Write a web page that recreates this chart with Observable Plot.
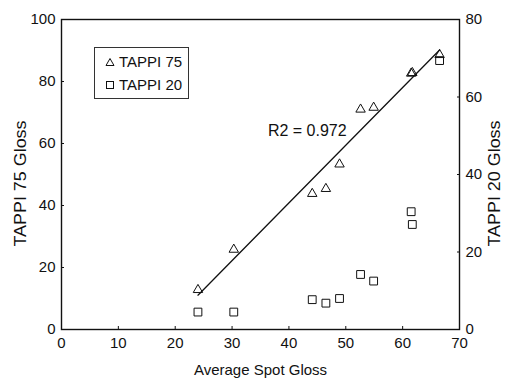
<!DOCTYPE html>
<html>
<head>
<meta charset="utf-8">
<script src="https://cdn.jsdelivr.net/npm/d3@7"></script>
<script src="https://cdn.jsdelivr.net/npm/@observablehq/plot@0.6"></script>
<style>
  html, body { margin: 0; padding: 0; background: #fff; }
  #wrap { position: relative; width: 508px; height: 383px; font-family: "Liberation Sans", Arial, sans-serif; }
  #legend { position: absolute; left: 94px; top: 47px; width: 95px; height: 52px; border: 1px solid #333; background: #fff; box-sizing: border-box; font-size: 15px; color: #111; }
  #legend .row { position: absolute; left: 10px; display: flex; align-items: center; line-height: 17px; }
  #legend svg { margin-right: 4px; }
</style>
</head>
<body>
<div id="wrap">
  <div id="chart"></div>
  <div id="legend">
    <div class="row" style="top:5px"><svg width="10" height="10"><path d="M5,1.5L9,8.5H1Z" fill="none" stroke="#111" stroke-width="1"/></svg>TAPPI 75</div>
    <div class="row" style="top:28px"><svg width="10" height="10"><rect x="1.5" y="1.5" width="7" height="7" fill="none" stroke="#111" stroke-width="1"/></svg>TAPPI 20</div>
  </div>
</div>
<script>
// Average spot gloss (x) for each sample
const spotGloss = [24, 30.3, 44.1, 46.5, 48.9, 52.6, 54.9, 61.5, 61.7, 66.5];
// TAPPI 75 gloss (left axis)
const tappi75 = [12.8, 25.8, 43.8, 45.4, 53.3, 71, 71.6, 82.6, 82.8, 88.6];
// TAPPI 20 gloss (right axis, 0–80)
const tappi20 = [4.5, 4.5, 7.7, 6.8, 8.0, 14.2, 12.5, 30.4, 27.1, 69.4];

const xTicks = [0, 10, 20, 30, 40, 50, 60, 70];
const leftTicks = [0, 20, 40, 60, 80, 100];
const rightTicks = [0, 20, 40, 60, 80];
const r2Label = "R2 = 0.972";
const r2Pos = { x: 36.3, y: 64 };

const k = 100 / 80; // map right-axis values onto left scale
const rows75 = spotGloss.map((x, i) => ({ x, y: tappi75[i] }));
const rows20 = spotGloss.map((x, i) => ({ x, y: tappi20[i] * k }));

const font = "Liberation Sans, Arial, sans-serif";

const chart = Plot.plot({
  width: 508,
  height: 383,
  marginLeft: 61,
  marginRight: 49,
  marginTop: 19,
  marginBottom: 54,
  style: { fontFamily: font, fontSize: "15px", color: "#111", background: "#fff" },
  x: { domain: [0, 70] },
  y: { domain: [0, 100] },
  marks: [
    Plot.frame({ stroke: "#111", strokeWidth: 1.4 }),
    Plot.axisX({ ticks: xTicks, tickSize: -3, tickPadding: 11, fontSize: 15,
      label: "Average Spot Gloss", labelAnchor: "center", labelArrow: "none", labelOffset: 45 }),
    Plot.axisY({ ticks: leftTicks, tickSize: -3, tickPadding: 9, fontSize: 15,
      label: "TAPPI 75 Gloss", labelAnchor: "center", labelArrow: "none", labelOffset: 47 }),
    Plot.axisY({ anchor: "right", ticks: rightTicks.map(v => v * k), tickFormat: d => Math.round(d / k),
      tickSize: -3, tickPadding: 9, fontSize: 15,
      label: "TAPPI 20 Gloss", labelAnchor: "center", labelArrow: "none", labelOffset: 40 }),
    Plot.linearRegressionY(rows75, { x: "x", y: "y", ci: 0, stroke: "#111", strokeWidth: 1.3 }),
    Plot.dot(rows75, { x: "x", y: "y", symbol: "triangle", r: 3.5, stroke: "#111", strokeWidth: 1, fill: "none" }),
    Plot.dot(rows20, { x: "x", y: "y", symbol: "square", r: 4.4, stroke: "#111", strokeWidth: 1, fill: "none" }),
    Plot.text([r2Pos], { x: "x", y: "y", text: () => r2Label, textAnchor: "start", fontSize: 16, fill: "#111" })
  ]
});
document.getElementById("chart").appendChild(chart);
// The scanned reference has its vertical axis titles elongated; stretch them along their length.
chart.querySelectorAll("g[aria-label='y-axis label'] text").forEach(t => {
  t.setAttribute("font-size", "16");
  const tr = t.getAttribute("transform") || "";
  t.setAttribute("transform", tr + " translate(-9,0) scale(1.12,1)");
});
</script>
</body>
</html>
